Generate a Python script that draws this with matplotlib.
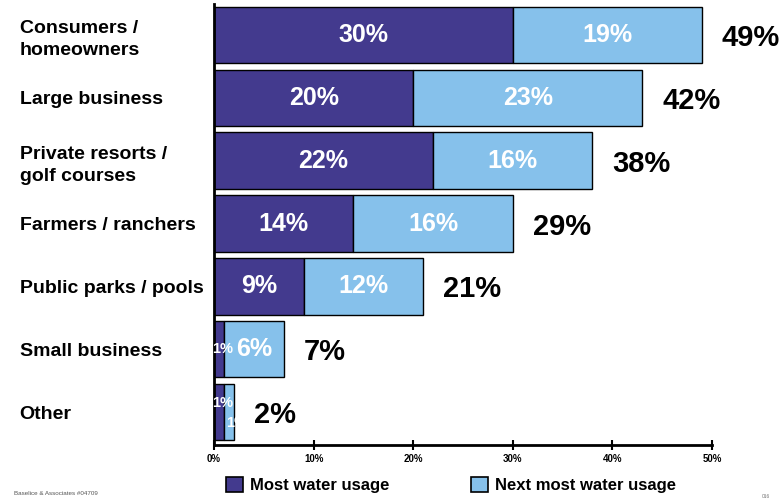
import matplotlib
matplotlib.use("Agg")
import matplotlib.pyplot as plt
from matplotlib.patches import Patch

plt.rcParams["font.family"] = ["Liberation Sans", "DejaVu Sans"]

categories = [
    "Consumers /\nhomeowners",
    "Large business",
    "Private resorts /\ngolf courses",
    "Farmers / ranchers",
    "Public parks / pools",
    "Small business",
    "Other",
]
most_usage = [30, 20, 22, 14, 9, 1, 1]
next_usage = [19, 23, 16, 16, 12, 6, 1]
totals = [49, 42, 38, 29, 21, 7, 2]
x_ticks = [0, 10, 20, 30, 40, 50]

dark = "#433a8e"
light = "#86c1eb"

fig = plt.figure(figsize=(7.82, 4.99), dpi=100)
ax = fig.add_axes([0.2737, 0.1082, 0.6368, 0.8846])

y = list(range(len(categories)))
bars_most = ax.barh(y, most_usage, height=0.9, color=dark, edgecolor="black", linewidth=1)
bars_next = ax.barh(y, next_usage, left=most_usage, height=0.9, color=light,
                    edgecolor="black", linewidth=1)

for i in y:
    m, n = most_usage[i], next_usage[i]
    if m >= 5:
        ax.text(m / 2, i, f"{m}%", ha="center", va="center", color="white",
                fontsize=18, fontweight="bold")
    else:
        dy = -0.15 if n < 5 else 0
        ax.text(m / 2 + 0.4, i + dy, f"{m}%", ha="center", va="center", color="white",
                fontsize=10.5, fontweight="bold")
    if n >= 5:
        ax.text(m + n / 2, i, f"{n}%", ha="center", va="center", color="white",
                fontsize=18, fontweight="bold")
    else:
        # narrow segment: label is cut by the bar outline
        t = ax.text(m + 0.2, i + 0.18, f"{n}%", ha="left", va="center", color="white",
                    fontsize=10.5, fontweight="bold")
        t.set_clip_path(bars_next[i])
    ax.text(m + n + 2.0, i + 0.05, f"{totals[i]}%", ha="left", va="center",
            color="black", fontsize=21, fontweight="bold")

ax.set_xlim(0, 50)
ax.set_ylim(6.525, -0.5)
ax.set_xticks(x_ticks)
ax.set_xticklabels([f"{v}%" for v in x_ticks], fontsize=7, fontweight="bold")
ax.set_yticks(y)
ax.set_yticklabels(categories, fontsize=14, fontweight="bold", ha="left", linespacing=1.4)
ax.tick_params(axis="y", length=0, pad=140)
ax.tick_params(axis="x", direction="inout", length=7, width=1.5, pad=3)

for side in ["top", "right"]:
    ax.spines[side].set_visible(False)
ax.spines["left"].set_linewidth(2)
ax.spines["bottom"].set_linewidth(2)

handles = [
    Patch(facecolor=dark, edgecolor="black", linewidth=1.2, label="Most water usage"),
    Patch(facecolor=light, edgecolor="black", linewidth=1.2, label="Next most water usage"),
]
fig.legend(handles=handles, loc="center left", bbox_to_anchor=(0.289, 0.028), ncol=2,
           frameon=False, handlelength=1.0, handleheight=1.0, handletextpad=0.45,
           columnspacing=4.9, borderpad=0, borderaxespad=0,
           prop={"size": 12, "weight": "bold"})

fig.text(0.018, 0.012, "Baselice & Associates #04709", fontsize=4.5, color="#555555",
         ha="left", va="center")
fig.text(0.985, 0.005, "016", fontsize=3.5, color="#777777", ha="right", va="center")

fig.savefig("out.png", dpi=100)
